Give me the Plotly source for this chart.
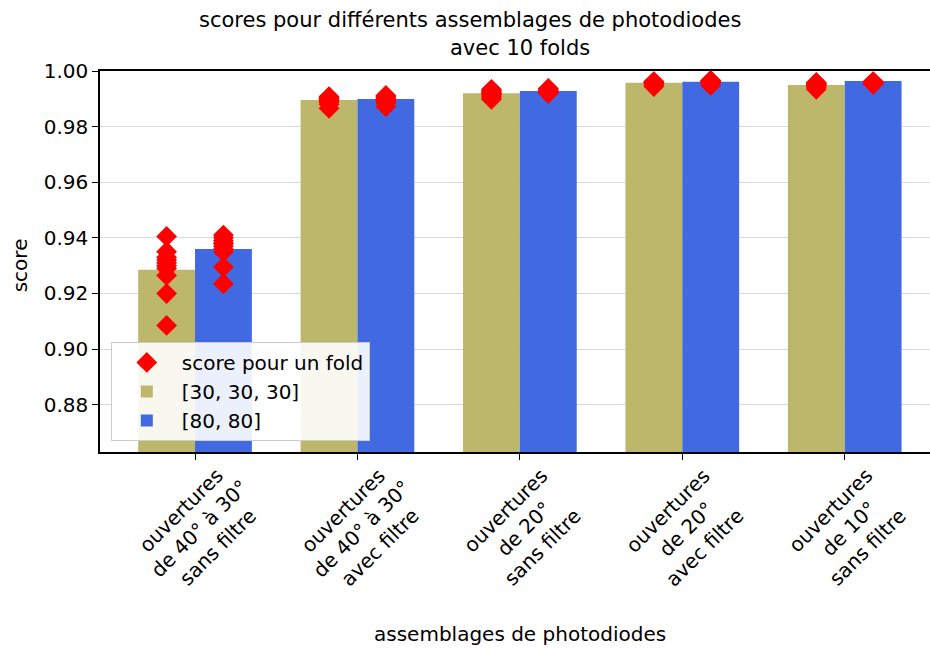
# -*- coding: utf-8 -*-

import plotly.graph_objects as go

categories = ['ouvertures<br>de 40° à 30°<br>sans filtre',
              'ouvertures<br>de 40° à 30°<br>avec filtre',
              'ouvertures<br>de 20°<br>sans filtre',
              'ouvertures<br>de 20°<br>avec filtre',
              'ouvertures<br>de 10°<br>sans filtre']

mean_30 = [0.9285, 0.9896, 0.9920, 0.9958, 0.9950]
mean_80 = [0.9360, 0.9899, 0.9928, 0.9961, 0.9964]

folds_30 = [
    [0.9405, 0.935, 0.933, 0.932, 0.931, 0.930, 0.929, 0.9265, 0.920, 0.9085],
    [0.9908, 0.9905, 0.9902, 0.990, 0.9897, 0.9894, 0.989, 0.9888, 0.988, 0.9866],
    [0.9934, 0.993, 0.9927, 0.9924, 0.992, 0.9918, 0.9915, 0.991, 0.9905, 0.9898],
    [0.9962, 0.9961, 0.996, 0.9959, 0.9958, 0.9957, 0.9956, 0.9955, 0.995, 0.9944],
    [0.9959, 0.9957, 0.9955, 0.9953, 0.9951, 0.995, 0.9948, 0.9945, 0.994, 0.9934],
]
folds_80 = [
    [0.941, 0.940, 0.939, 0.938, 0.938, 0.937, 0.936, 0.935, 0.9295, 0.9235],
    [0.9912, 0.991, 0.9907, 0.9903, 0.990, 0.9898, 0.9895, 0.989, 0.9885, 0.9872],
    [0.9937, 0.9935, 0.9933, 0.9931, 0.9929, 0.9927, 0.9925, 0.9923, 0.9921, 0.992],
    [0.9966, 0.9965, 0.9964, 0.9963, 0.9962, 0.9961, 0.996, 0.9958, 0.9955, 0.9948],
    [0.9962, 0.9961, 0.996, 0.996, 0.9959, 0.9958, 0.9957, 0.9956, 0.9954, 0.9952],
]

yticks = [0.88, 0.90, 0.92, 0.94, 0.96, 0.98, 1.00]

FONT = 'DejaVu Sans'
FS = 20
OLIVE = '#BDB76B'
BLUE = '#4169E1'
w = 0.35
idx = list(range(len(categories)))

fig = go.Figure()
fig.add_trace(go.Bar(x=[i - w / 2 for i in idx], y=mean_30, width=w, marker_color=OLIVE,
                     marker_line_width=0, name='[30, 30, 30]', legendrank=2))
fig.add_trace(go.Bar(x=[i + w / 2 for i in idx], y=mean_80, width=w, marker_color=BLUE,
                     marker_line_width=0, name='[80, 80]', legendrank=3))

px, py = [], []
for i in idx:
    px += [i - w / 2] * len(folds_30[i]) + [i + w / 2] * len(folds_80[i])
    py += folds_30[i] + folds_80[i]
fig.add_trace(go.Scatter(x=px, y=py, mode='markers', name='score pour un fold',
                         marker=dict(symbol='diamond', size=16, color='red', line_width=0),
                         legendrank=1))

# rotated tick labels
for i, c in zip(idx, categories):
    fig.add_annotation(x=i, y=0, xref='x', yref='paper', text=c, showarrow=False,
                       textangle=-45, xanchor='center', yanchor='middle', yshift=-77, xshift=4,
                       font=dict(family=FONT, size=FS, color='black'))

fig.add_annotation(x=0.4458, y=1.134, xref='paper', yref='paper', showarrow=False,
                   xanchor='center', yanchor='middle',
                   text='scores pour différents assemblages de photodiodes',
                   font=dict(family=FONT, size=21, color='black'))
fig.add_annotation(x=0.506, y=1.06, xref='paper', yref='paper', showarrow=False,
                   xanchor='center', yanchor='middle',
                   text='avec 10 folds', font=dict(family=FONT, size=21, color='black'))
fig.add_annotation(x=-0.0964, y=0.49, xref='paper', yref='paper', showarrow=False,
                   xanchor='center', yanchor='middle',
                   text='score', textangle=-90, font=dict(family=FONT, size=FS, color='black'))
fig.add_annotation(x=0.506, y=-0.478, xref='paper', yref='paper', showarrow=False,
                   xanchor='center', yanchor='middle',
                   text='assemblages de photodiodes', font=dict(family=FONT, size=FS, color='black'))

fig.update_layout(
    width=930, height=648,
    margin=dict(l=100, r=0, t=71, b=196),
    plot_bgcolor='white', paper_bgcolor='white',
    barmode='overlay', showlegend=True,
    font=dict(family=FONT, size=FS, color='black'),
    legend=dict(x=0.013, y=0.029, xanchor='left', yanchor='bottom',
                bgcolor='rgba(255,255,255,0.9)', bordercolor='#cccccc', borderwidth=1,
                font=dict(family=FONT, size=FS), traceorder='normal', itemwidth=60),
)
fig.update_xaxes(range=[-0.585, 4.525], tickvals=idx, showticklabels=False,
                 ticks='outside', ticklen=6, tickcolor='black',
                 showline=True, linecolor='black', linewidth=1.5, mirror=True,
                 showgrid=False, zeroline=False)
fig.update_yaxes(range=[0.863, 1.0], tickvals=yticks, tickformat='.2f',
                 ticks='outside', ticklen=6, tickcolor='black',
                 showline=True, linecolor='black', linewidth=1.5,
                 showgrid=True, gridcolor='#d9d9d9', gridwidth=1.2, zeroline=False,
                 tickfont=dict(family=FONT, size=FS))

fig.write_html("out.html", config={'displayModeBar': False},
               post_script="document.body.style.margin='0';document.body.style.overflow='hidden';")
